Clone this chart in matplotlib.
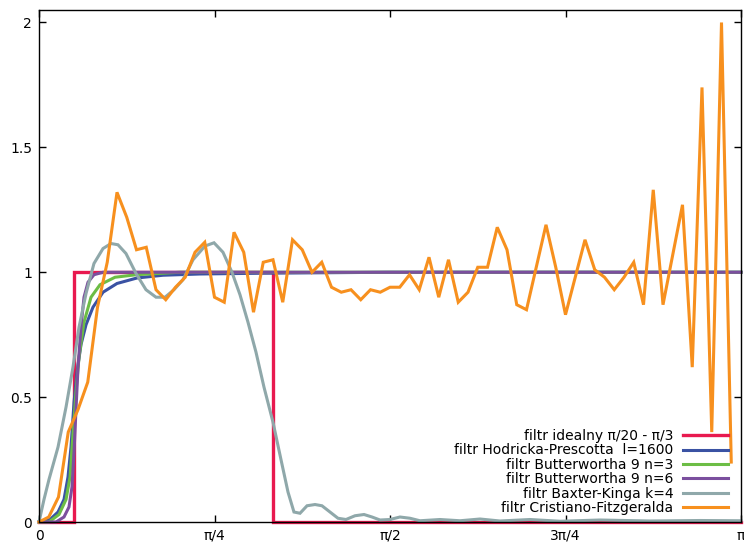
import numpy as np
import matplotlib
matplotlib.use("Agg")
import matplotlib.pyplot as plt

# frequencies are given in units of pi
ideal_x = [0, 1/20, 1/20, 1/3, 1/3, 1]
ideal_y = [0, 0, 1, 1, 0, 0]

hp_x = [0, 0.0157, 0.0271, 0.0356, 0.0413, 0.0456, 0.0499, 0.0541, 0.0598, 0.0670,
        0.0769, 0.0912, 0.1111, 0.1396, 0.1766, 0.2293, 0.3148, 0.5, 1.0]
hp_y = [0, 0.01, 0.04, 0.09, 0.18, 0.30, 0.48, 0.60, 0.71, 0.79,
        0.86, 0.92, 0.955, 0.977, 0.988, 0.993, 0.996, 1.0, 1.0]

bw3_x = [0, 0.0142, 0.0285, 0.0385, 0.0442, 0.0484, 0.0527, 0.057, 0.0641, 0.0741,
         0.0869, 0.1083, 0.1382, 0.2009, 1.0]
bw3_y = [0, 0.0, 0.03, 0.09, 0.18, 0.35, 0.52, 0.66, 0.80, 0.90,
         0.95, 0.98, 0.99, 1.0, 1.0]

bw6_x = [0, 0.0242, 0.0356, 0.0427, 0.047, 0.0499, 0.0527, 0.0556, 0.0598, 0.0641,
         0.0698, 0.0783, 0.0912, 1.0]
bw6_y = [0, 0, 0.02, 0.06, 0.14, 0.28, 0.45, 0.62, 0.78, 0.90,
         0.96, 0.99, 1.0, 1.0]

bk_x = [0, 0.0071, 0.0142, 0.0271, 0.0385, 0.0484, 0.057, 0.067, 0.0783, 0.0912,
        0.1026, 0.1125, 0.1239, 0.1382, 0.1524, 0.1667, 0.1795, 0.1923, 0.2051, 0.2194,
        0.2365, 0.2493, 0.2621, 0.2749, 0.2863, 0.2977, 0.3091, 0.3205, 0.3333, 0.3447,
        0.3547, 0.3632, 0.3718, 0.3818, 0.3932, 0.4031, 0.4145, 0.4259, 0.4373, 0.4501,
        0.463, 0.4744, 0.4858, 0.5, 0.5142, 0.5285, 0.5427, 0.5712, 0.5997, 0.6282,
        0.6567, 0.6994, 0.7422, 0.7991, 0.8704, 0.9416, 1.0]
bk_y = [0.0, 0.09, 0.17, 0.30, 0.46, 0.62, 0.78, 0.915, 1.035, 1.095,
        1.115, 1.11, 1.075, 0.995, 0.93, 0.90, 0.90, 0.93, 0.97, 1.05,
        1.105, 1.118, 1.08, 1.0, 0.91, 0.80, 0.68, 0.54, 0.40, 0.25,
        0.12, 0.04, 0.035, 0.065, 0.07, 0.065, 0.04, 0.015, 0.01, 0.025,
        0.03, 0.02, 0.008, 0.01, 0.02, 0.015, 0.005, 0.01, 0.005, 0.012,
        0.004, 0.01, 0.003, 0.008, 0.004, 0.006, 0.005]

# Christiano-Fitzgerald gain, sampled every pi/72
cf_y = [0.00, 0.02, 0.10, 0.36, 0.45, 0.56, 0.86, 1.04, 1.32, 1.22,
        1.09, 1.10, 0.93, 0.89, 0.94, 0.98, 1.08, 1.12, 0.90, 0.88,
        1.16, 1.08, 0.84, 1.04, 1.05, 0.88, 1.13, 1.09, 1.00, 1.04,
        0.94, 0.92, 0.93, 0.89, 0.93, 0.92, 0.94, 0.94, 0.99, 0.93,
        1.06, 0.90, 1.05, 0.88, 0.92, 1.02, 1.02, 1.18, 1.09, 0.87,
        0.85, 1.02, 1.19, 1.02, 0.83, 0.98, 1.13, 1.01, 0.98, 0.93,
        0.98, 1.04, 0.87, 1.33, 0.87, 1.07, 1.27, 0.62, 1.74, 0.36,
        2.00, 0.24]
cf_x = np.arange(len(cf_y)) / 72

labels = ["filtr idealny π/20 - π/3",
          "filtr Hodricka-Prescotta  l=1600",
          "filtr Butterwortha 9 n=3",
          "filtr Butterwortha 9 n=6",
          "filtr Baxter-Kinga k=4",
          "filtr Cristiano-Fitzgeralda"]
colors = ["#e8194f", "#3a52a3", "#6cbd45", "#7b4f9e", "#8fa8aa", "#f7901e"]

xtick_pos = [0, 0.25, 0.5, 0.75, 1.0]
xtick_lab = ["0", "π/4", "π/2", "3π/4", "π"]
ytick_pos = [0, 0.5, 1, 1.5, 2]
ytick_lab = ["0", "0.5", "1", "1.5", "2"]

fig = plt.figure(figsize=(7.44, 5.46), dpi=100)
ax = fig.add_axes([39/744, 24/546, 702/744, 512/546])

series = [(ideal_x, ideal_y), (hp_x, hp_y), (bw3_x, bw3_y),
          (bw6_x, bw6_y), (bk_x, bk_y), (cf_x, cf_y)]
for (xs, ys), lab, col in zip(series, labels, colors):
    lw = 2.4 if col == "#e8194f" else 2.2
    ax.plot(np.array(xs) * np.pi, ys, color=col, lw=lw, label=lab,
            solid_joinstyle="miter", clip_on=False)

ax.set_xlim(0, np.pi)
ax.set_ylim(0, 2.05)
ax.set_xticks(np.array(xtick_pos) * np.pi)
ax.set_xticklabels(xtick_lab)
ax.set_yticks(ytick_pos)
ax.set_yticklabels(ytick_lab)
ax.tick_params(direction="in", top=True, right=True, length=5, width=1,
               labelsize=10, pad=5)
for s in ax.spines.values():
    s.set_linewidth(1)

ax.legend(loc="lower right", bbox_to_anchor=(0.985, 0.008), frameon=False,
          markerfirst=False, fontsize=10, handlelength=3.2, handletextpad=0.7,
          labelspacing=0.03, borderaxespad=0, borderpad=0.2)

fig.savefig("out.png", dpi=100)
